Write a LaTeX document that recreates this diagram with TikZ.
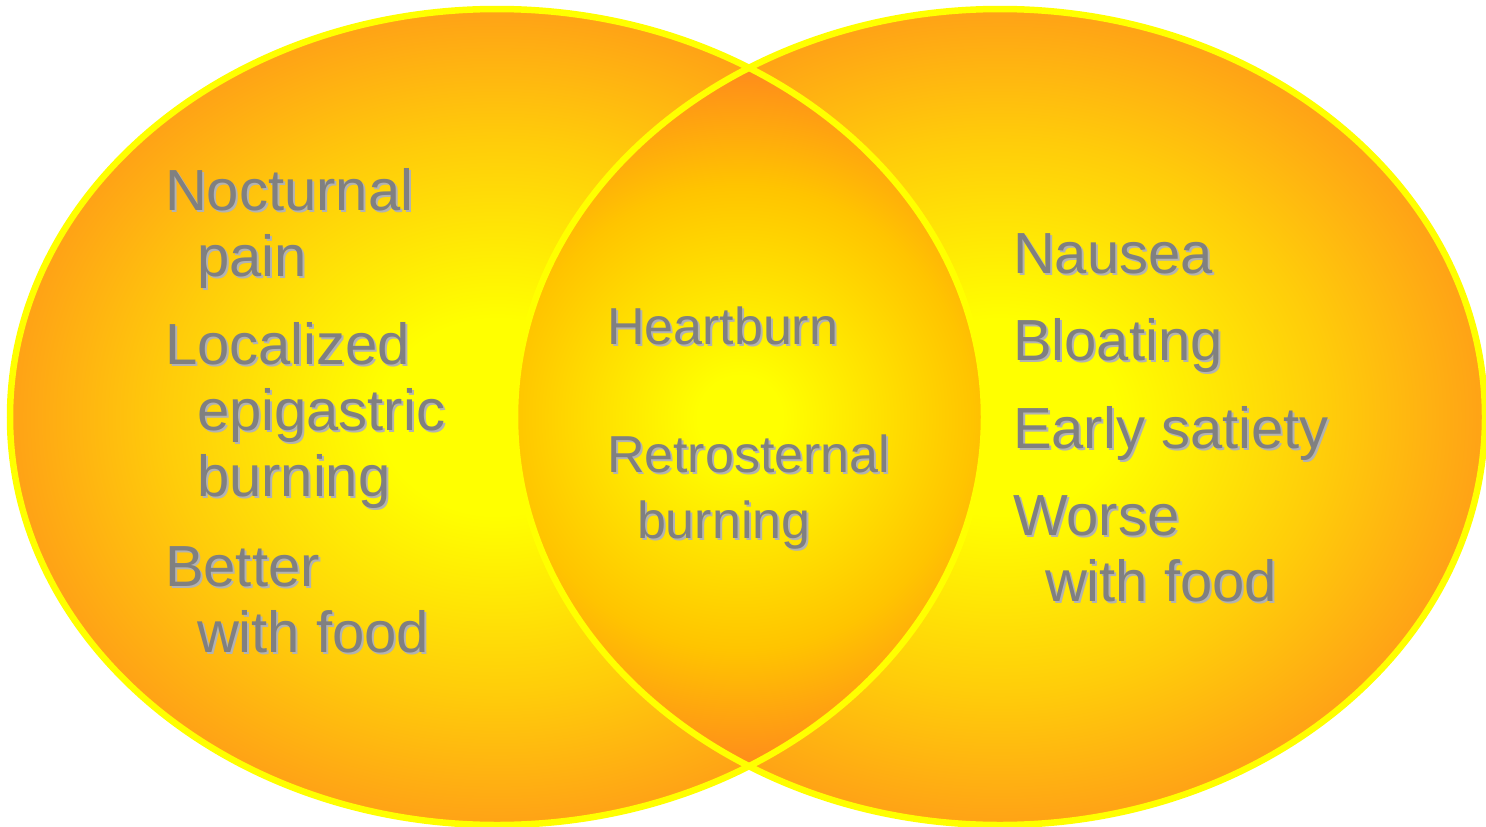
\documentclass[tikz,border=0pt]{standalone}
\usepackage{fontspec}
\setmainfont{Liberation Sans}
\definecolor{yel}{RGB}{255,255,0}
\definecolor{gld}{RGB}{255,204,10}
\definecolor{org}{RGB}{255,162,22}
\definecolor{lgld}{RGB}{255,196,0}
\definecolor{lorg}{RGB}{255,138,28}
\definecolor{txtgray}{RGB}{128,128,128}
\definecolor{shgray}{RGB}{178,178,178}
\pgfdeclareradialshading{ellshade}{\pgfpoint{0bp}{0bp}}{color(0bp)=(yel);color(6bp)=(yel);color(17bp)=(gld);color(25bp)=(org);color(50bp)=(org)}
\pgfdeclareradialshading{lensshade}{\pgfpoint{0bp}{0bp}}{color(0bp)=(yel);color(3bp)=(yel);color(16.5bp)=(lgld);color(25bp)=(lorg);color(50bp)=(lorg)}
\newcommand{\shlabel}[5][]{%
  \node[lbl,text=shgray,#1] (#2s) at (#3+2,#4+2) {#5};
  \node[lbl,#1] (#2) at (#3,#4) {#5};}
\begin{document}
\begin{tikzpicture}[x=1pt,y=-1pt,
  lbl/.style={anchor=base west,inner sep=0pt,outer sep=0pt,text=txtgray,font=\fontsize{58}{64}\selectfont},
  mid/.style={font=\fontsize{52}{58}\selectfont},
  rim/.style={draw=yel,line width=6.5pt}]
\useasboundingbox (0,0) rectangle (1486,827);
\shade[shading=ellshade] (497,417) ellipse [x radius=487pt,y radius=408pt];
\shade[shading=ellshade] (1000,417) ellipse [x radius=485pt,y radius=408pt];
\begin{scope}
  \clip (497,417) ellipse [x radius=487pt,y radius=408pt];
  \clip (1000,417) ellipse [x radius=485pt,y radius=408pt];
  \shade[shading=lensshade] (740,418) circle (352pt);
\end{scope}
\draw[rim] (497,417) ellipse [x radius=487pt,y radius=408pt];
\draw[rim] (1000,417) ellipse [x radius=485pt,y radius=408pt];
% left
\shlabel{l1}{165}{210}{Nocturnal}
\shlabel{l2}{197}{276}{pain}
\shlabel{l3}{165}{364}{Localized}
\shlabel{l4}{197}{430}{epigastric}
\shlabel{l5}{197}{496}{burning}
\shlabel{l6}{165}{586}{Better}
\shlabel{l7}{197}{652}{with food}
% middle
\shlabel[mid]{m1}{607}{344}{Heartburn}
\shlabel[mid]{m2}{607}{472}{Retrosternal}
\shlabel[mid]{m3}{637}{538}{burning}
% right
\shlabel{r1}{1013}{273}{Nausea}
\shlabel{r2}{1013}{360}{Bloating}
\shlabel{r3}{1013}{448}{Early satiety}
\shlabel{r4}{1013}{535}{Worse}
\shlabel{r5}{1045}{601}{with food}
\end{tikzpicture}
\end{document}
